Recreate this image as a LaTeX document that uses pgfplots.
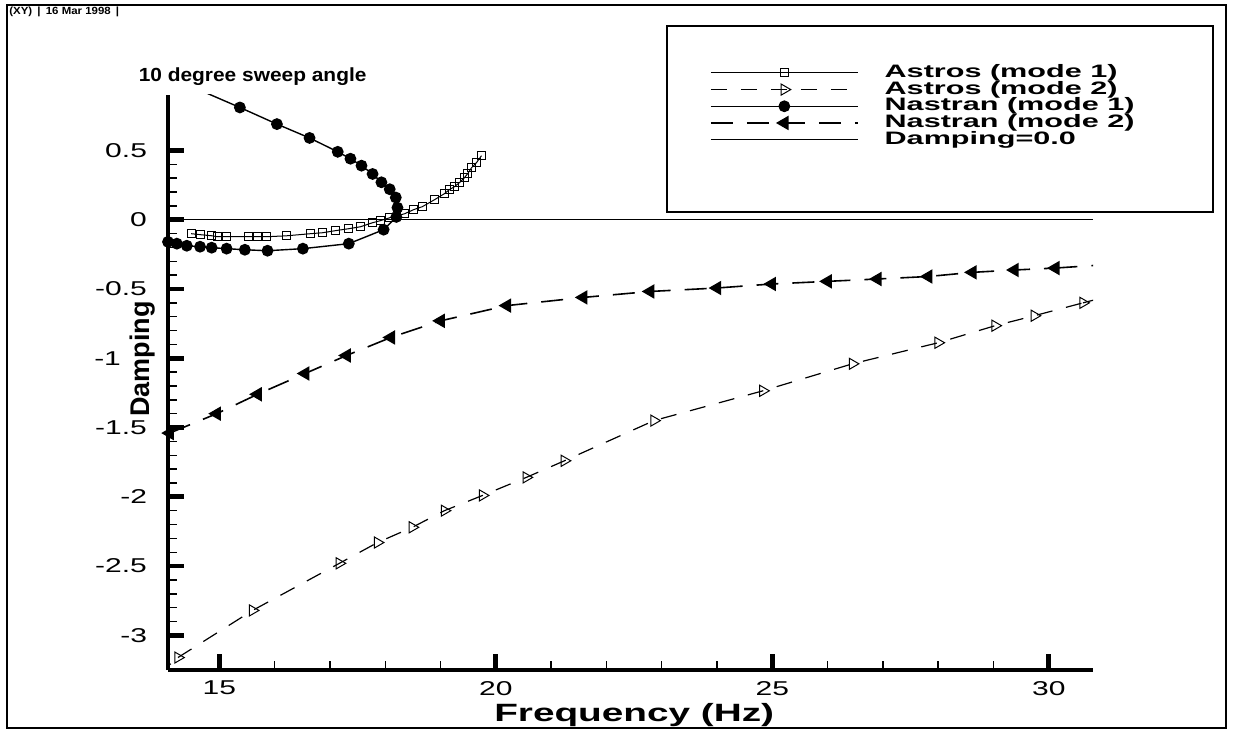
\documentclass[border=0pt]{standalone}
\usepackage{fontspec}
\setmainfont{Liberation Sans}
% the scan is stretched sideways, so the text is too
\newfontfamily\ticksans{Liberation Sans}[FakeStretch=1.5]
\newfontfamily\labsans{Liberation Sans}[FakeStretch=1.55]
\newfontfamily\legsans{Liberation Sans}[FakeStretch=1.7]
\newfontfamily\titsans{Liberation Sans}[FakeStretch=1.1]
\usepackage{pgfplots}
\pgfplotsset{compat=1.18}

\begin{document}
\begin{tikzpicture}
\begin{axis}[
  scale only axis,
  width=462.5pt, height=287.5pt,
  xmin=14.07, xmax=30.8, ymin=-3.25, ymax=0.9,
  axis lines=left,
  axis line style={-, line width=1.6pt},
  xtick={15,20,25,30},
  ytick={-3,-2.5,-2,-1.5,-1,-0.5,0,0.5},
  % the -1 label stands clear of the axis title, as in the original
  yticklabels={-3,-2.5,-2,-1.5,{-1\hspace*{13pt}},-0.5,0,0.5},
  minor x tick num=4, minor y tick num=4,
  tick align=inside,
  major tick length=8pt, minor tick length=4.5pt,
  major tick style={line width=2.4pt, black},
  minor tick style={line width=0.7pt, black},
  /pgf/number format/assume math mode=true,
  ticklabel style={font=\ticksans\fontsize{10}{12}\selectfont},
  yticklabel style={xshift=-7pt},
  xticklabel style={yshift=-2pt},
  title={10 degree sweep angle},
  title style={at={(axis description cs:-0.032,1.035)}, anchor=west, inner sep=0pt,
    yshift=-7pt, font=\titsans\bfseries\fontsize{9.5}{11}\selectfont},
  xlabel={Frequency (Hz)},
  xlabel style={at={(axis description cs:0.504,-0.078)}, anchor=center,
    font=\labsans\bfseries\fontsize{12.5}{15}\selectfont},
  ylabel={Damping},
  ylabel style={at={(axis description cs:-0.028,0.541)}, anchor=center,
    font=\bfseries\fontsize{13.5}{15}\selectfont},
  legend image code/.code={\draw[mark repeat=2,mark phase=2,#1]
    plot coordinates {(0pt,0pt) (36.75pt,0pt) (73.5pt,0pt)};},
  legend cell align=left,
  legend style={at={(axis description cs:0.586,1.053)}, anchor=north west,
    draw=none, fill=none, inner sep=0pt, outer sep=0pt, row sep=0pt,
    font=\legsans\bfseries\fontsize{9}{9}\selectfont,
    nodes={inner sep=0pt, text height=6.5pt, text depth=1.85pt},
    /tikz/every odd column/.append style={column sep=13pt}},
]
\addplot[black, line width=0.5pt, mark=square, mark size=2pt,
  mark options={solid, fill=white, line width=0.5pt}] coordinates {
  (14.49,-0.101) (14.65,-0.108) (14.86,-0.116) (14.97,-0.123) (15.12,-0.123)
  (15.53,-0.123) (15.68,-0.123) (15.86,-0.123) (16.22,-0.116) (16.65,-0.101)
  (16.87,-0.094) (17.10,-0.079) (17.34,-0.065) (17.55,-0.051) (17.77,-0.022)
  (17.91,-0.007) (18.08,0.014) (18.35,0.043) (18.51,0.072) (18.67,0.094)
  (18.89,0.144) (19.07,0.188) (19.16,0.217) (19.25,0.238) (19.34,0.267)
  (19.43,0.303) (19.49,0.332) (19.56,0.375) (19.65,0.412) (19.74,0.462)};
\addlegendentry{Astros (mode 1)}
\addplot[black, line width=0.6pt, dash pattern=on 8pt off 7pt, mark=triangle, mark size=3.2pt,
  mark options={solid, rotate=-90, fill=white, line width=0.5pt}] coordinates {
  (14.25,-3.16) (15.60,-2.82) (17.17,-2.48) (17.86,-2.33) (18.49,-2.22)
  (19.07,-2.10) (19.76,-1.99) (20.55,-1.86) (21.24,-1.74) (22.86,-1.45)
  (24.83,-1.235) (26.45,-1.04) (28.0,-0.888) (29.03,-0.765) (29.74,-0.693)
  (30.62,-0.60)};
\addlegendentry{Astros (mode 2)}
\addplot[black, line width=0.7pt, mark=*, mark size=2.6pt] coordinates {
  (14.07,-0.16) (14.23,-0.173) (14.41,-0.188) (14.65,-0.195) (14.86,-0.202)
  (15.13,-0.209) (15.46,-0.217) (15.87,-0.224) (16.51,-0.209) (17.34,-0.173)
  (17.97,-0.072) (18.20,0.02) (18.22,0.087) (18.19,0.16) (18.08,0.22)
  (17.93,0.27) (17.77,0.33) (17.57,0.39) (17.37,0.44) (17.14,0.49)
  (16.63,0.59) (16.04,0.69) (15.37,0.81)};
\addlegendentry{Nastran (mode 1)}
\addplot[black, line width=0.8pt, dash pattern=on 11pt off 7pt, mark=triangle*, mark size=3.4pt,
  mark options={solid, rotate=90}] coordinates {
  (14.1,-1.54) (14.95,-1.40) (15.69,-1.26) (16.55,-1.11) (17.3,-0.98)
  (18.1,-0.85) (19.0,-0.73) (20.2,-0.62) (21.58,-0.561) (22.79,-0.518)
  (24.0,-0.493) (24.99,-0.464) (26.0,-0.445) (26.9,-0.428) (27.82,-0.41)
  (28.62,-0.38) (29.38,-0.363) (30.12,-0.349)};
\addlegendentry{Nastran (mode 2)}
\addplot[black, line width=0.8pt] coordinates {(14.07,0) (30.8,0)};
\addlegendentry{Damping=0.0}
% segments running out of the axis, drawn without marks
\addplot[black, line width=0.7pt, forget plot] coordinates {(15.37,0.81) (14.5,0.96)};
\addplot[black, line width=0.6pt, dash pattern=on 8pt off 7pt, forget plot]
  coordinates {(13.9,-3.28) (14.25,-3.16)};
\addplot[black, line width=0.6pt, dash pattern=on 8pt off 7pt, forget plot]
  coordinates {(30.62,-0.60) (31.2,-0.54)};
\addplot[black, line width=0.8pt, dash pattern=on 11pt off 7pt, forget plot]
  coordinates {(30.12,-0.349) (31.2,-0.32)};
\coordinate (FrameSW) at (axis description cs:-0.174,-0.1009);
\coordinate (FrameNE) at (axis description cs:1.1438,1.1565);
\coordinate (BBSW) at (axis description cs:-0.18162,-0.10783);
\coordinate (BBNE) at (axis description cs:1.15135,1.16522);
\coordinate (LegSW) at (axis description cs:0.5395,0.7965);
\coordinate (LegNE) at (axis description cs:1.13,1.12);
\coordinate (Head) at (axis description cs:-0.1719,1.1443);
\end{axis}
\path (BBSW) rectangle (BBNE);
\draw[line width=0.6pt] (FrameSW) rectangle (FrameNE);
\draw[line width=0.9pt] (LegSW) rectangle (LegNE);
\node[anchor=west, inner sep=0pt, font=\titsans\bfseries\fontsize{5.2}{6}\selectfont]
  at (Head) {(XY)\enspace|\enspace 16 Mar 1998\enspace|};
\end{tikzpicture}
\end{document}
